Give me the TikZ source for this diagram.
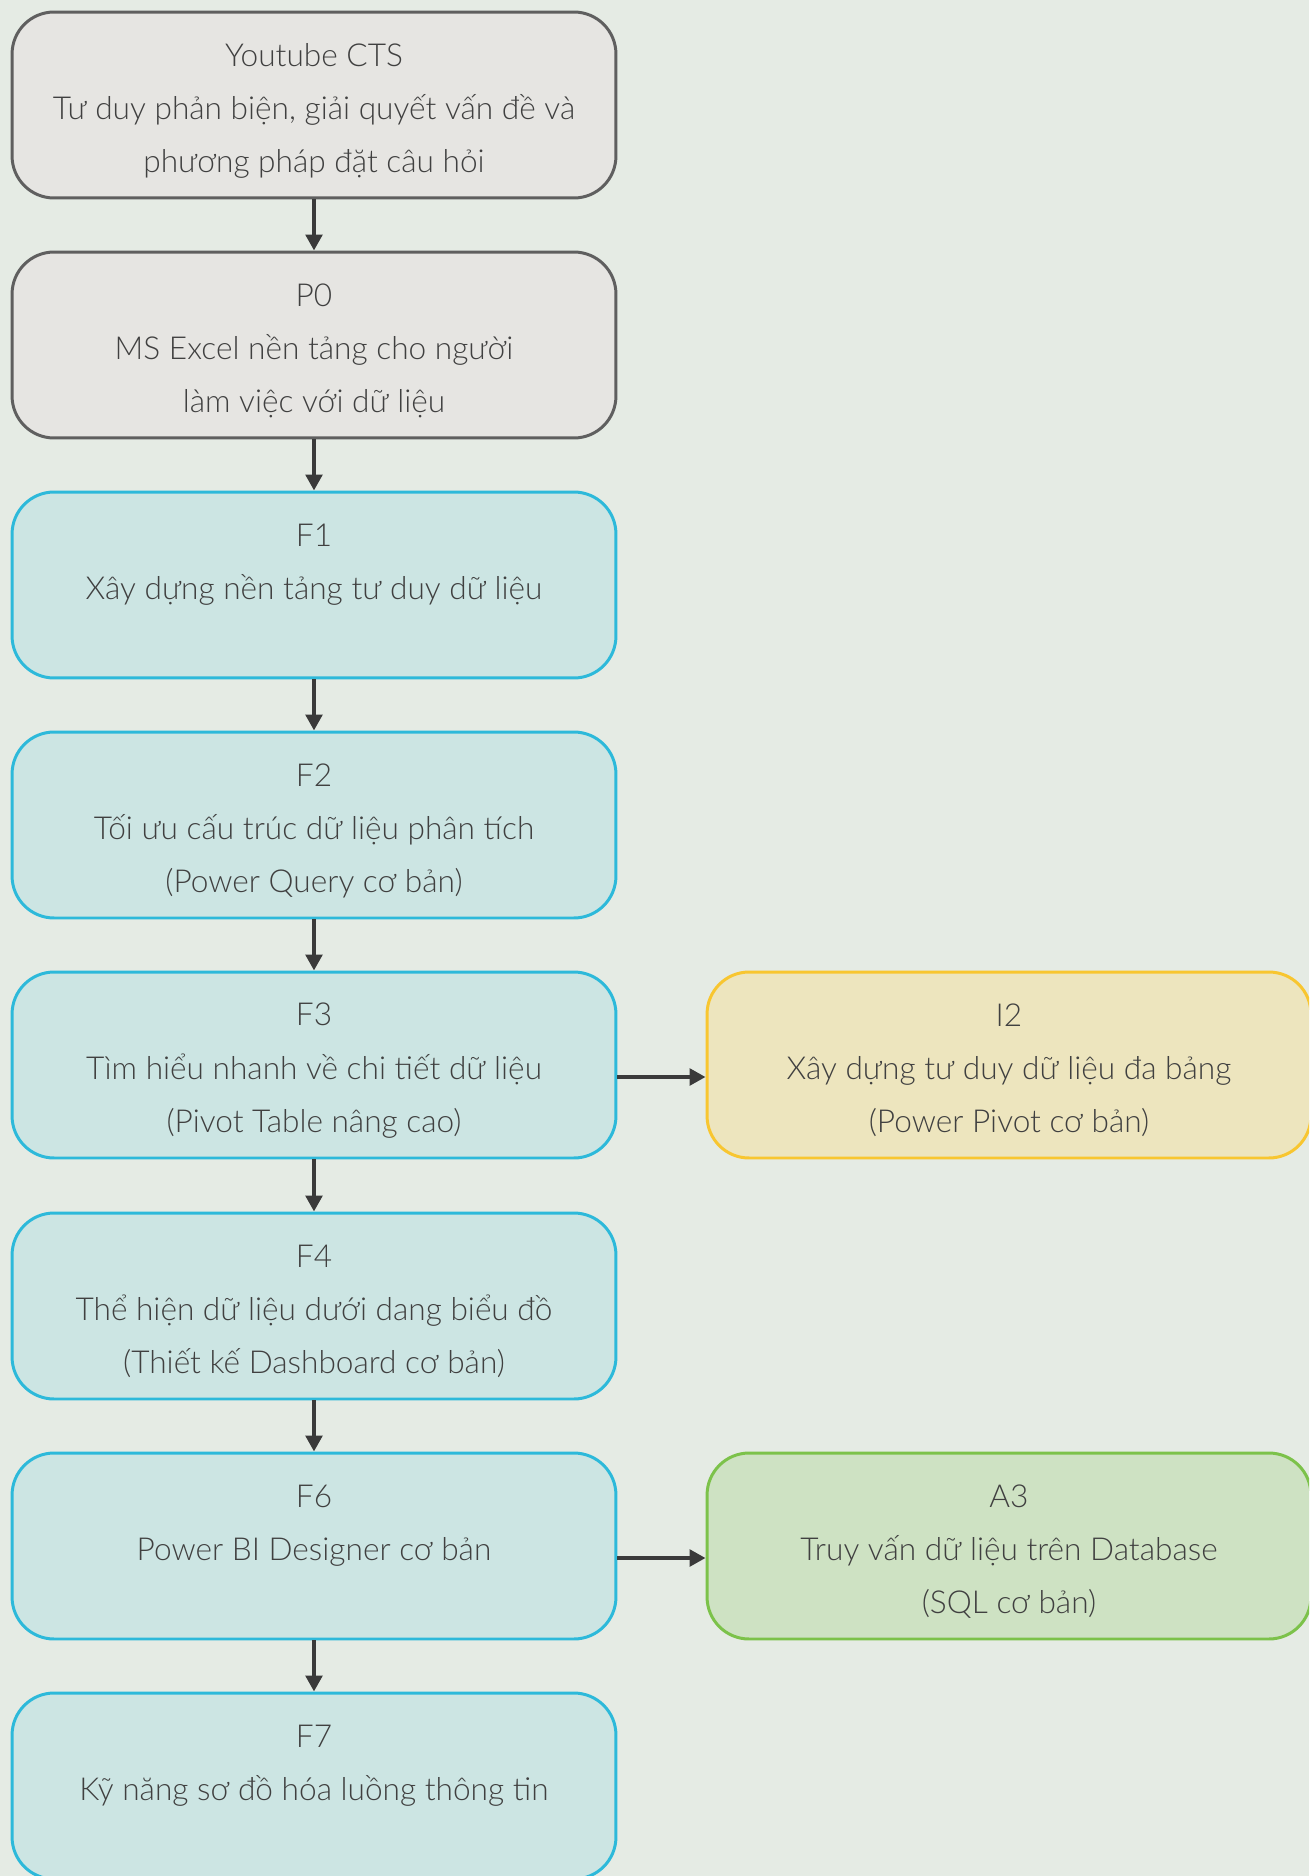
\documentclass[tikz,border=0pt]{standalone}
\usepackage{fontspec}
\IfFontExistsTF{Lato Light}{\setmainfont{Lato Light}}{\setmainfont{Lato}}
\usetikzlibrary{arrows.meta}
\definecolor{bg}{HTML}{E5EBE4}
\definecolor{grayfill}{HTML}{E6E5E2}
\definecolor{grayline}{HTML}{5F5F5F}
\definecolor{bluefill}{HTML}{CCE5E3}
\definecolor{blueline}{HTML}{2DB9DA}
\definecolor{yelfill}{HTML}{EDE5BE}
\definecolor{yelline}{HTML}{F8C630}
\definecolor{grnfill}{HTML}{CEE2C3}
\definecolor{grnline}{HTML}{7CC24A}
\definecolor{txt}{HTML}{404040}
\definecolor{arrowc}{HTML}{3A3A3A}
\newcommand{\lastl}{\vphantom{(Ày}}
\begin{document}
\begin{tikzpicture}[x=0.02cm,y=-0.02cm,
  box/.style={rounded corners=0.84cm, line width=1.7pt, minimum width=12.08cm, minimum height=3.72cm, inner sep=0pt},
  btext/.style={align=center, text=txt, font=\fontsize{18}{30.4}\selectfont, inner sep=0pt},
  graybox/.style={box, draw=grayline, fill=grayfill},
  bluebox/.style={box, draw=blueline, fill=bluefill},
  yelbox/.style={box, draw=yelline, fill=yelfill},
  grnbox/.style={box, draw=grnline, fill=grnfill},
  arr/.style={line width=2.7pt, draw=arrowc, -{Triangle[length=0.32cm,width=0.33cm]}}]
\path[fill=bg, use as bounding box] (0,0) rectangle (1309,1876);
\clip (0,0) rectangle (1309,1876);
\node[graybox] (yt) at (314,105) {};
\node[graybox] (p0) at (314,345) {};
\node[bluebox] (f1) at (314,585) {};
\node[bluebox] (f2) at (314,825) {};
\node[bluebox] (f3) at (314,1065) {};
\node[bluebox] (f4) at (314,1306) {};
\node[bluebox] (f6) at (314,1546) {};
\node[bluebox] (f7) at (314,1786) {};
\node[yelbox] (i2) at (1009,1065) {};
\node[grnbox] (a3) at (1009,1546) {};
\node[btext] (ytt) at ([yshift=-0.12cm]yt.center) {Youtube CTS\\Tư duy phản biện, giải quyết vấn đề và\\phương pháp đặt câu hỏi\lastl};
\node[btext] (p0t) at ([yshift=-0.12cm]p0.center) {P0\\MS Excel nền tảng cho người\\làm việc với dữ liệu\lastl};
\node[btext] (f1t) at ([yshift=-0.12cm]f1.center) {F1\\Xây dựng nền tảng tư duy dữ liệu\\\lastl};
\node[btext] (f2t) at ([yshift=-0.12cm]f2.center) {F2\\Tối ưu cấu trúc dữ liệu phân tích\\(Power Query cơ bản)\lastl};
\node[btext] (f3t) at ([yshift=-0.12cm]f3.center) {F3\\Tìm hiểu nhanh về chi tiết dữ liệu\\(Pivot Table nâng cao)\lastl};
\node[btext] (f4t) at ([yshift=-0.12cm]f4.center) {F4\\Thể hiện dữ liệu dưới dang biểu đồ\\(Thiết kế Dashboard cơ bản)\lastl};
\node[btext] (f6t) at ([yshift=-0.12cm]f6.center) {F6\\Power BI Designer cơ bản\\\lastl};
\node[btext] (f7t) at ([yshift=-0.12cm]f7.center) {F7\\Kỹ năng sơ đồ hóa luồng thông tin\\\lastl};
\node[btext] (i2t) at ([yshift=-0.12cm]i2.center) {I2\\Xây dựng tư duy dữ liệu đa bảng\\(Power Pivot cơ bản)\lastl};
\node[btext] (a3t) at ([yshift=-0.12cm]a3.center) {A3\\Truy vấn dữ liệu trên Database\\(SQL cơ bản)\lastl};
\draw[arr] (yt.south) -- (p0.north);
\draw[arr] (p0.south) -- (f1.north);
\draw[arr] (f1.south) -- (f2.north);
\draw[arr] (f2.south) -- (f3.north);
\draw[arr] (f3.south) -- (f4.north);
\draw[arr] (f4.south) -- (f6.north);
\draw[arr] (f6.south) -- (f7.north);
\draw[arr] ([yshift=-0.24cm]f3.east) -- ([yshift=-0.24cm]i2.west);
\draw[arr] ([yshift=-0.24cm]f6.east) -- ([yshift=-0.24cm]a3.west);
\end{tikzpicture}
\end{document}
